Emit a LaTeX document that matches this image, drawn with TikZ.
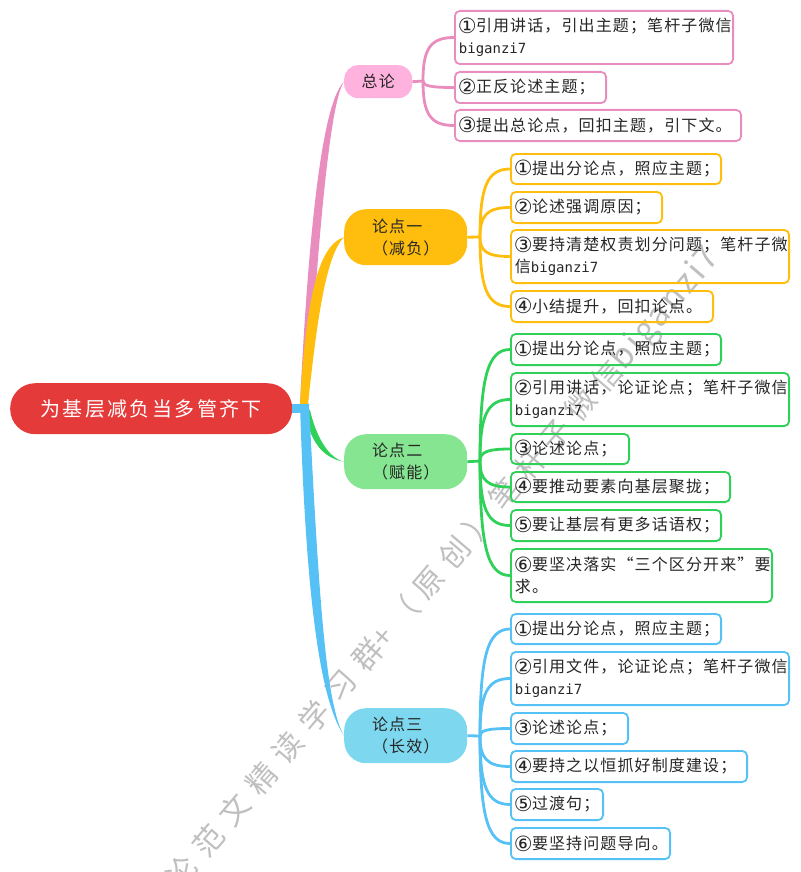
\documentclass[tikz,border=0pt]{standalone}
\usepackage{fontspec}
\setmainfont{Noto Sans CJK SC}
\newfontfamily\lf[LetterSpace=7]{Noto Sans CJK SC}
\newfontfamily\rf[LetterSpace=12]{Noto Sans CJK SC}
\newfontfamily\wf[LetterSpace=36]{Noto Sans CJK SC}
\newfontfamily\wg[LetterSpace=30]{Noto Sans CJK SC}
\newfontfamily\wl[LetterSpace=8]{Noto Sans CJK SC}
\newfontfamily\mf{DejaVu Sans Mono}
\newfontfamily\cf{DejaVu Sans}
\usetikzlibrary{calc}
\definecolor{cpink}{HTML}{E88DBE}
\definecolor{corange}{HTML}{FFBE0D}
\definecolor{cgreen}{HTML}{30D158}
\definecolor{cblue}{HTML}{56C1F5}
\definecolor{fpink}{HTML}{FFB2DD}
\definecolor{fgreen}{HTML}{85E590}
\definecolor{fblue}{HTML}{7DD8EF}
\definecolor{froot}{HTML}{E53A3A}
\newcommand\bz{{\mf\fontsize{14}{22}\selectfont biganzi7}}
\newcommand\q[1]{\makebox[17.1pt][l]{\smash{\raisebox{-1.5pt}{\hspace*{-1pt}\cf\fontsize{21}{22}\selectfont #1}}}}
\tikzset{
  leafbox/.style={rectangle,rounded corners=5pt,line width=1.8pt,inner xsep=4pt,inner ysep=0pt,align=left,
    font=\lf\fontsize{16}{22}\selectfont,text=black!85},
  branchbox/.style={rectangle,rounded corners=22pt,inner sep=0pt,align=center,
    minimum width=123pt,minimum height=55pt,font=\lf\fontsize{16}{22}\selectfont,text=black!85},
  rootbox/.style={rectangle,rounded corners=25pt,inner sep=0pt,fill=froot,text=white,
    minimum width=282pt,minimum height=51pt,font=\rf\fontsize{20}{22}\selectfont},
  stem/.style={line width=2.8pt},
}
\newcommand\leaf[7]{%
  \pgfmathsetmacro\lh{#5-#3-1.8}\pgfmathsetmacro\tw{#4-#2-8-1.8}%
  \node[leafbox,draw=#6,text width=\tw pt,minimum height=\lh pt,anchor=north west] (#1) at (#2,#3) {#7};}
\newcommand\fork[4]{% colour, branch, hub, leaves
  \draw[stem,#1] (#2.east) -- (#3);
  \foreach \t in {#4}{
    \draw[stem,#1] (#3) .. controls ($(#3)!0.73!(#3 |- \t.west)$) and ($(#3 |- \t.west)+(7,0)$) .. (\t.west);
  }}
\begin{document}
\begin{tikzpicture}[x=1pt,y=-1pt]
\useasboundingbox (0,0) rectangle (800,872);
% watermark
\begin{scope}
\clip (0,0) rectangle (800,872);
\node[rotate=49.5,anchor=west,inner sep=0pt,text=black!25,font=\fontsize{30}{30}\selectfont] (wm) at (174,885) {\wf 论范文精读学习群\wg +（原创）笔杆子微信\wl\fontsize{33}{30}\selectfont biganzi7};
\end{scope}
% root and branches
\node[rootbox,anchor=north west] (root) at (10,383) {为基层减负当多管齐下};
\node[branchbox,anchor=north west,fill=fpink,rounded corners=14pt,minimum width=68pt,minimum height=33pt] (bz0) at (344,65) {总论};
\node[branchbox,anchor=north west,fill=corange,minimum height=56pt] (b1) at (344,209) {论点一\hspace*{17pt}\\（减负）};
\node[branchbox,anchor=north west,fill=fgreen] (b2) at (344,434) {论点二\hspace*{17pt}\\（赋能）};
\node[branchbox,anchor=north west,fill=fblue] (b3) at (344,708) {论点三\hspace*{17pt}\\（长效）};
% leaves
\leaf{p1}{454}{10}{734}{65}{cpink}{\q{①}引用讲话，引出主题；笔杆子微信\\\bz}
\leaf{p2}{454}{71}{607}{104}{cpink}{\q{②}正反论述主题；}
\leaf{p3}{454}{109}{742}{142}{cpink}{\q{③}提出总论点，回扣主题，引下文。}
\leaf{o1}{510}{153}{722}{185}{corange}{\q{①}提出分论点，照应主题；}
\leaf{o2}{510}{191}{663}{224}{corange}{\q{②}论述强调原因；}
\leaf{o3}{510}{229}{790}{284}{corange}{\q{③}要持清楚权责划分问题；笔杆子微\\信\bz}
\leaf{o4}{510}{290}{714}{323}{corange}{\q{④}小结提升，回扣论点。}
\leaf{g1}{510}{333}{722}{366}{cgreen}{\q{①}提出分论点，照应主题；}
\leaf{g2}{510}{372}{790}{427}{cgreen}{\q{②}引用讲话，论证论点；笔杆子微信\\\bz}
\leaf{g3}{510}{433}{630}{465}{cgreen}{\q{③}论述论点；}
\leaf{g4}{510}{471}{731}{503}{cgreen}{\q{④}要推动要素向基层聚拢；}
\leaf{g5}{510}{509}{722}{542}{cgreen}{\q{⑤}要让基层有更多话语权；}
\leaf{g6}{510}{548}{773}{603}{cgreen}{\q{⑥}要坚决落实“三个区分开来”要\\求。}
\leaf{c1}{510}{613}{722}{645}{cblue}{\q{①}提出分论点，照应主题；}
\leaf{c2}{510}{651}{790}{706}{cblue}{\q{②}引用文件，论证论点；笔杆子微信\\\bz}
\leaf{c3}{510}{712}{629}{745}{cblue}{\q{③}论述论点；}
\leaf{c4}{510}{750}{748}{783}{cblue}{\q{④}要持之以恒抓好制度建设；}
\leaf{c5}{510}{788}{604}{821}{cblue}{\q{⑤}过渡句；}
\leaf{c6}{510}{827}{671}{860}{cblue}{\q{⑥}要坚持问题导向。}
% main tapered connectors
\coordinate (hub) at (304,404);
\coordinate (hubg) at (307,410);
\fill[cpink] ($(hub)+(-4,0)$) .. controls (310,200) and (325,100) .. (bz0.west) .. controls (331,100) and (319,220) .. ($(hub)+(4,0)$) -- cycle;
\fill[corange] ($(hub)+(-4,0)$) .. controls (306,300) and (318,245) .. (b1.west) .. controls (326,255) and (317,320) .. ($(hub)+(4,0)$) -- cycle;
\fill[cgreen] ($(hubg)+(-2,0)$) .. controls (309,440) and (322,458) .. (b2.west) .. controls (328,458) and (316,436) .. ($(hubg)+(3,0)$) -- cycle;
\fill[cblue] ($(hub)+(-4,0)$) .. controls (306,600) and (320,700) .. (b3.west) .. controls (326,705) and (319,600) .. ($(hub)+(5,0)$) -- cycle;
\draw[cblue,line width=9pt] (root.east |- 0,408.5) -- (309,408.5);
% forks
\coordinate (fp) at (423,81);
\coordinate (fo) at (480,237);
\coordinate (fg) at (480,461);
\coordinate (fc) at (480,736);
\fork{cpink}{bz0}{fp}{p1,p2,p3}
\fork{corange}{b1}{fo}{o1,o2,o3,o4}
\fork{cgreen}{b2}{fg}{g1,g2,g3,g4,g5,g6}
\fork{cblue}{b3}{fc}{c1,c2,c3,c4,c5,c6}
\end{tikzpicture}
\end{document}
